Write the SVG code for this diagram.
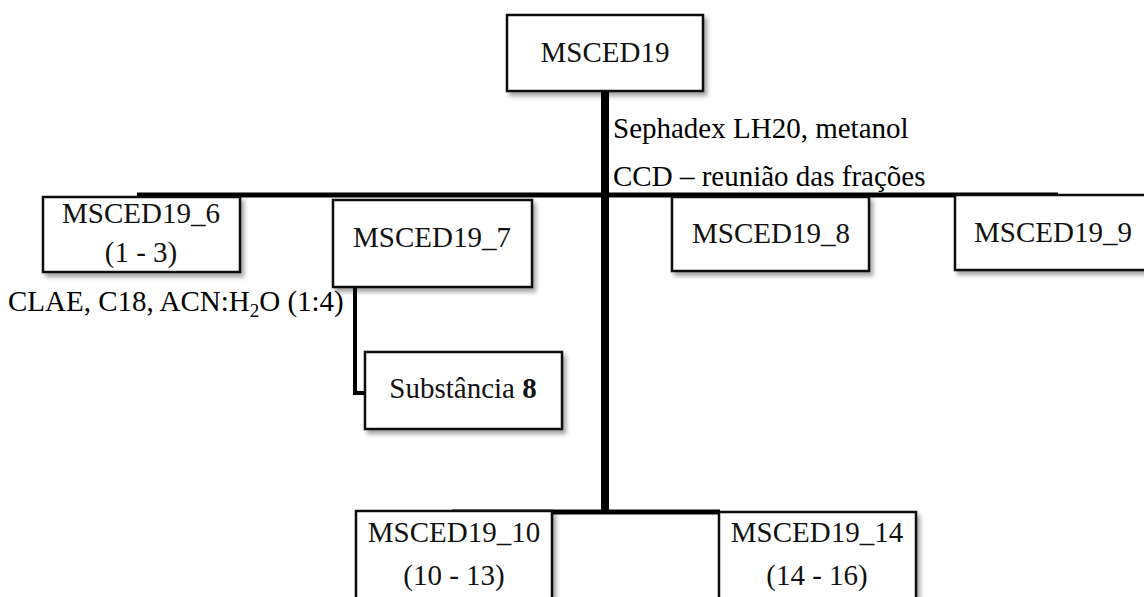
<svg xmlns="http://www.w3.org/2000/svg" width="1144" height="597" viewBox="0 0 1144 597">
<defs>
<filter id="sh" x="-10%" y="-10%" width="130%" height="140%">
<feDropShadow dx="3" dy="4" stdDeviation="2" flood-color="#000" flood-opacity="0.35"/>
</filter>
</defs>
<style>
.box{fill:#fff;stroke:#111;stroke-width:2.5;filter:url(#sh)}
.bt{font-family:"Liberation Serif",serif;font-size:29px;fill:#111;text-anchor:middle}
.lt{font-family:"Liberation Serif",serif;font-size:29px;fill:#000}
.ln{stroke:#000;fill:none}
</style>
<rect width="1144" height="597" fill="#fff"/>
<g id="connectors">
<line class="ln" x1="605" y1="91" x2="605" y2="512" stroke-width="8"/>
<line class="ln" x1="137" y1="195" x2="1058" y2="195" stroke-width="5"/>
<line class="ln" x1="452" y1="512" x2="720" y2="512" stroke-width="5"/>
<polyline class="ln" points="355,287 355,393 366,393" stroke-width="4"/>
</g>
<g id="labels">
<text class="lt" x="613" y="138">Sephadex LH20, metanol</text>
<text class="lt" x="613" y="186">CCD – reunião das frações</text>
<text class="lt" x="8" y="311">CLAE, C18, ACN:H<tspan font-size="19" dy="6">2</tspan><tspan dy="-6">O (1:4)</tspan></text>
</g>
<g id="n-MSCED19">
<rect class="box" x="507" y="15" width="196" height="76"/>
<text class="bt" x="605" y="62">MSCED19</text>
</g>
<g id="n-MSCED19_6">
<rect class="box" x="43" y="197" width="197" height="75"/>
<text class="bt" x="141" y="223">MSCED19_6</text>
<text class="bt" x="141" y="262">(1 - 3)</text>
</g>
<g id="n-MSCED19_7">
<rect class="box" x="333" y="200" width="199" height="87"/>
<text class="bt" x="432" y="247">MSCED19_7</text>
</g>
<g id="n-MSCED19_8">
<rect class="box" x="672" y="197" width="197" height="74"/>
<text class="bt" x="771" y="243">MSCED19_8</text>
</g>
<g id="n-MSCED19_9">
<rect class="box" x="955" y="195" width="195" height="75"/>
<text class="bt" x="1053" y="242">MSCED19_9</text>
</g>
<g id="n-Substancia8">
<rect class="box" x="365" y="352" width="197" height="77"/>
<text class="bt" x="463" y="398">Substância <tspan font-weight="bold">8</tspan></text>
</g>
<g id="n-MSCED19_10">
<rect class="box" x="356" y="511" width="196" height="95"/>
<text class="bt" x="454" y="542">MSCED19_10</text>
<text class="bt" x="454" y="585">(10 - 13)</text>
</g>
<g id="n-MSCED19_14">
<rect class="box" x="719" y="512" width="197" height="95"/>
<text class="bt" x="817" y="542">MSCED19_14</text>
<text class="bt" x="817" y="585">(14 - 16)</text>
</g>
</svg>
